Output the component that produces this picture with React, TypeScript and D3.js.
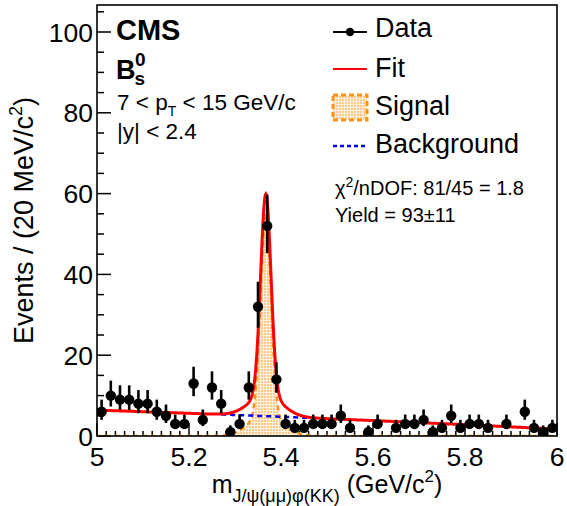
import React from "react";
import * as d3 from "d3";

// ---- data ----
const massMin = 5.0;
const massMax = 6.0;
const binWidth = 0.02; // GeV/c^2
const counts = [
  6, 10, 9, 9, 8, 8, 6, 5, 3, 3,
  13, 4, 12, 8, 1, 3, 12, 32, 52, 14,
  3, 2, 2, 3, 3, 3, 5, 2, 0, 1,
  3, 0, 2, 3, 3, 4, 1, 2, 5, 2,
  3, 3, 2, 0, 3, 0, 6, 2, 1, 2,
];
const xTicks = [5, 5.2, 5.4, 5.6, 5.8, 6];
const yTicks = [0, 20, 40, 60, 80, 100];

// fit parameters (double Gaussian signal + quadratic background, events per bin)
const sigMean = 5.367;
const sigSigmaCore = 0.0112;
const sigSigmaWide = 0.035;
const sigFracCore = 0.75;
const sigYield = 93;
const bgCoef = [6.4, -3.7, -1.0];
const bgShownRange = [5.27, 5.5];

const W = 567;
const H = 506;
const L = 97, R = 557, T = 5, B = 436;
const FONT = "'Liberation Sans', Arial, Helvetica, sans-serif";

const gauss = (m: number, mu: number, s: number) =>
  Math.exp(-0.5 * ((m - mu) / s) ** 2) / (s * Math.sqrt(2 * Math.PI));
const sig = (m: number) =>
  sigYield * binWidth *
  (sigFracCore * gauss(m, sigMean, sigSigmaCore) + (1 - sigFracCore) * gauss(m, sigMean, sigSigmaWide));
const bg = (m: number) => {
  const t = m - massMin;
  return bgCoef[0] + bgCoef[1] * t + bgCoef[2] * t * t;
};

export default function App() {
  const x = d3.scaleLinear().domain([massMin, massMax]).range([L, R]);
  const y = d3.scaleLinear().domain([0, (B - T) / 4.04]).range([B, T]);

  const grid = d3.range(0, 1001).map((i) => massMin + (i / 1000) * (massMax - massMin));
  const fitLine = d3.line<number>().x((m) => x(m)).y((m) => y(sig(m) + bg(m)))(grid) || "";
  const sigLine = d3.line<number>().x((m) => x(m)).y((m) => y(sig(m)))(grid) || "";
  const sigArea = d3.area<number>().x((m) => x(m)).y0(y(0)).y1((m) => y(sig(m)))(grid) || "";
  const bgGrid = grid.filter((m) => m >= bgShownRange[0] && m <= bgShownRange[1]);
  const bgLine = d3.line<number>().x((m) => x(m)).y((m) => y(bg(m)))(bgGrid) || "";

  const points = counts
    .map((n, i) => ({ n, m: massMin + (i + 0.5) * binWidth }))
    .filter((d) => d.n > 0);

  const yMinor = d3.range(0, 106, 5);
  const xMinor = d3.range(0, 51).map((i) => massMin + i * binWidth);

  return (
    <svg width={W} height={H} style={{ position: "absolute", left: 0, top: 0, background: "#fff" }} fontFamily={FONT}>
      <defs>
        <pattern id="sigPat" width={3} height={3} patternUnits="userSpaceOnUse">
          <rect width={3} height={3} fill="#fff1de" />
          <rect width={2} height={2} fill="#fcc98a" />
        </pattern>
        <clipPath id="plotClip">
          <rect x={L} y={T} width={R - L} height={B - T} />
        </clipPath>
      </defs>
      <rect x={0} y={0} width={W} height={H} fill="#fff" />

      {/* ticks */}
      {yMinor.map((v) => (
        <line key={"ym" + v} x1={L} x2={L + (v % 20 === 0 ? 14 : 7)} y1={y(v)} y2={y(v)} stroke="#000" strokeWidth={1.5} />
      ))}
      {xMinor.map((v, i) => (
        <line key={"xm" + i} x1={x(v)} x2={x(v)} y1={B} y2={B - (i % 10 === 0 ? 13 : 5)} stroke="#000" strokeWidth={1.5} />
      ))}

      <g clipPath="url(#plotClip)">
        <path d={sigArea} fill="url(#sigPat)" />
        <path d={sigLine} fill="none" stroke="#f7941d" strokeWidth={2.5} strokeDasharray="5 4" />
        <path d={bgLine} fill="none" stroke="#0000ff" strokeWidth={2.5} strokeDasharray="5 4" />
        <path d={fitLine} fill="none" stroke="#ff0000" strokeWidth={3} />
        {points.map((d, i) => {
          const s = Math.sqrt(d.n + 0.25);
          const lo = d.n + 0.5 - s;
          const hi = d.n + 0.5 + s;
          return (
            <g key={"p" + i}>
              <line x1={x(d.m)} x2={x(d.m)} y1={y(lo)} y2={y(hi)} stroke="#000" strokeWidth={2.6} />
              <circle cx={x(d.m)} cy={y(d.n)} r={5.2} fill="#000" />
            </g>
          );
        })}
      </g>

      <rect x={L} y={T} width={R - L} height={B - T} fill="none" stroke="#000" strokeWidth={1.6} />

      {/* tick labels */}
      {yTicks.map((v) => (
        <text key={"yl" + v} x={93} y={y(v) + 9.5} textAnchor="end" fontSize={26.5} fill="#000">{v}</text>
      ))}
      {xTicks.map((v) => (
        <text key={"xl" + v} x={x(v)} y={466} textAnchor="middle" fontSize={26.5} fill="#000">{v}</text>
      ))}

      {/* axis titles */}
      <text x={(L + R) / 2} y={493} textAnchor="middle" fontSize={25} fill="#000">
        m<tspan fontSize={18} dy={9}>J/ψ(μμ)φ(KK)</tspan>
        <tspan dy={-9}> (GeV/c</tspan>
        <tspan fontSize={17} dy={-11}>2</tspan>
        <tspan dy={11}>)</tspan>
      </text>
      <text transform={`translate(33,${(T + B) / 2}) rotate(-90)`} textAnchor="middle" fontSize={27} fill="#000">
        Events / (20 MeV/c<tspan fontSize={18} dy={-11}>2</tspan>
        <tspan dy={11}>)</tspan>
      </text>

      {/* labels */}
      <text x={116} y={40} fontSize={29} fontWeight="bold" fill="#000">CMS</text>
      <text x={116} y={79} fontSize={27} fontWeight="bold" fill="#000">
        B<tspan fontSize={19} dx={-1} dy={6}>s</tspan>
        <tspan fontSize={19} dx={-10} dy={-19}>0</tspan>
      </text>
      <text x={117} y={110} fontSize={22.5} fill="#000">
        7 &lt; p<tspan fontSize={14} dy={6}>T</tspan>
        <tspan dy={-6}> &lt; 15 GeV/c</tspan>
      </text>
      <text x={117} y={139} fontSize={22.5} fill="#000">|y| &lt; 2.4</text>

      {/* legend */}
      <line x1={333} x2={367} y1={32} y2={32} stroke="#000" strokeWidth={2} />
      <circle cx={350} cy={32} r={4.2} fill="#000" />
      <text x={375} y={37} fontSize={27} fill="#000">Data</text>
      <line x1={333} x2={367} y1={69} y2={69} stroke="#ff0000" strokeWidth={2} />
      <text x={375} y={77} fontSize={27} fill="#000">Fit</text>
      <rect x={333} y={95} width={34} height={25} fill="url(#sigPat)" stroke="#f7941d" strokeWidth={3} strokeDasharray="5 3" />
      <text x={375} y={115} fontSize={27} fill="#000">Signal</text>
      <line x1={333} x2={367} y1={146} y2={146} stroke="#0000ff" strokeWidth={2.5} strokeDasharray="4 3" />
      <text x={375} y={153} fontSize={27} fill="#000">Background</text>

      <text x={335} y={195} fontSize={20} fill="#000">
        χ<tspan fontSize={14} dy={-8}>2</tspan>
        <tspan dy={8}>/nDOF: 81/45 = 1.8</tspan>
      </text>
      <text x={335} y={222} fontSize={20} fill="#000">Yield = 93±11</text>
    </svg>
  );
}
